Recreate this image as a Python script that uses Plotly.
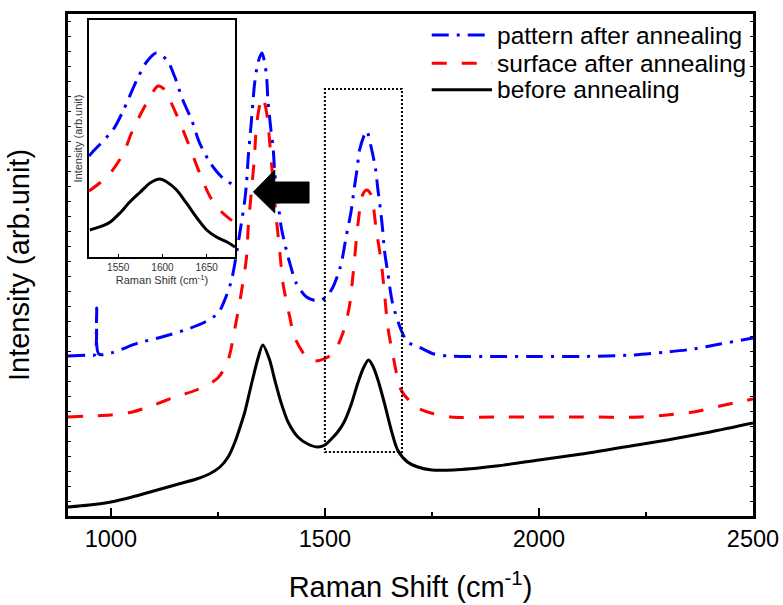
import plotly.graph_objects as go

# ---- Raman spectra (main panel), intensity in arbitrary units ----
pattern_x = [900, 950, 962, 967, 972, 1000, 1064, 1119, 1173, 1220, 1251, 1266, 1282,
             1305, 1313, 1317, 1321, 1328, 1332, 1336, 1344, 1353, 1363, 1367, 1374,
             1379, 1383, 1391, 1398, 1406, 1418, 1433, 1457, 1484, 1503, 1519, 1534,
             1540, 1550, 1561, 1569, 1575, 1581, 1594, 1598, 1608, 1618, 1624, 1630,
             1635, 1639, 1647, 1658, 1678, 1693, 1720, 1755, 1794, 1900, 2000, 2100,
             2220, 2299, 2361, 2423, 2500]
pattern_y = [162, 163, 163, 210, 164, 165, 175, 181, 188, 196, 205, 218, 238,
             295, 318, 335, 361, 395, 416, 435, 456, 465, 445, 418, 388,
             371, 345, 315, 291, 275, 255, 235, 221, 217, 221, 231, 248,
             258, 282, 306, 331, 348, 368, 385, 387, 371, 350, 328, 308,
             288, 268, 245, 215, 188, 176, 171, 164, 162, 161.5, 161.5, 161.5,
             163, 166, 169, 174, 180]

surface_x = [900, 950, 1000, 1050, 1100, 1150, 1200, 1250, 1274, 1290, 1305, 1317,
             1321, 1328, 1335, 1340, 1348, 1355, 1362, 1367, 1374, 1387, 1395, 1402,
             1418, 1429, 1457, 1476, 1503, 1522, 1542, 1557, 1569, 1577, 1588, 1598,
             1608, 1620, 1631, 1639, 1647, 1658, 1678, 1700, 1717, 1748, 1794, 1900,
             2000, 2100, 2237, 2299, 2361, 2423, 2500]
surface_y = [101, 102, 103, 106, 113, 121, 128, 140, 158, 190, 226, 261,
             291, 325, 358, 391, 413, 421, 410, 395, 361, 298, 265, 235,
             201, 181, 161, 157, 160, 166, 185, 211, 258, 293, 323, 328,
             323, 288, 258, 226, 191, 165, 128, 116, 110, 105, 101, 101,
             101, 101, 101, 103, 106, 112, 119]

before_x = [900, 950, 1000, 1050, 1100, 1150, 1200, 1230, 1255, 1274, 1290, 1305, 1313,
            1328, 1344, 1355, 1371, 1383, 1398, 1414, 1437, 1460, 1484, 1500, 1515,
            1530, 1545, 1561, 1577, 1590, 1602, 1612, 1624, 1639, 1655, 1670, 1693,
            1717, 1750, 1800, 1900, 2000, 2100, 2200, 2300, 2400, 2500]
before_y = [11, 13, 16, 21, 27, 33, 39, 44, 51, 61, 76, 95, 106,
            133, 160, 173, 158, 138, 115, 96, 81, 74, 71, 73, 79,
            86, 96, 113, 135, 150, 158, 152, 138, 115, 88, 68, 56,
            51, 48, 48, 52, 58, 64, 71, 78, 86, 95]

# ---- G-band detail (inset), intensity in arbitrary units ----
in_pattern_x = [1517, 1522, 1544, 1556, 1571, 1582, 1593, 1605, 1614, 1623, 1633, 1642, 1654, 1667, 1682]
in_pattern_y = [101, 106, 127, 147, 177, 195, 204, 197, 180, 157, 137, 114, 94, 80, 71]

in_surface_x = [1517, 1529, 1542, 1556, 1565, 1576, 1586, 1595, 1603, 1610, 1620, 1629, 1642, 1654, 1667, 1682]
in_surface_y = [66, 74, 85, 104, 124, 144, 160, 171, 167, 154, 134, 114, 84, 60, 45, 34]

in_before_x = [1518, 1529, 1541, 1552, 1563, 1575, 1586, 1597, 1605, 1616, 1627, 1639, 1650, 1661, 1673, 1682]
in_before_y = [27, 30, 35, 44, 55, 65, 74, 78, 75, 67, 54, 39, 27, 20, 15, 10]

series_names = ["pattern after annealing", "surface after annealing", "before annealing"]
series_colors = ["#0000ff", "#ff0000", "#000000"]
series_dash = ["17px,8px,3px,8px", "15px,15px", "solid"]

x_ticks = [1000, 1500, 2000, 2500]
x_minor = [1250, 1750, 2250]
inset_ticks = [1550, 1600, 1650]

FONT = "Liberation Sans, Arial, sans-serif"

fig = go.Figure()

main_data = [(pattern_x, pattern_y), (surface_x, surface_y), (before_x, before_y)]
inset_data = [(in_pattern_x, in_pattern_y), (in_surface_x, in_surface_y), (in_before_x, in_before_y)]

for (xs, ys), name, col, dash in zip(main_data, series_names, series_colors, series_dash):
    fig.add_trace(go.Scatter(x=xs, y=ys, mode="lines", name=name, showlegend=False,
                             line=dict(color=col, width=3, dash=dash, shape="spline", smoothing=0.8)))

for (xs, ys), name, col, dash in zip(inset_data, series_names, series_colors, series_dash):
    fig.add_trace(go.Scatter(x=xs, y=ys, mode="lines", name=name, showlegend=False,
                             xaxis="x2", yaxis="y2",
                             line=dict(color=col, width=3, dash=dash, shape="spline", smoothing=0.8)))

shapes = []
# dotted box around the G band
shapes.append(dict(type="rect", xref="x", yref="y", x0=1500, x1=1680, y0=66, y1=429,
                   line=dict(color="black", width=2, dash="2px,2px"), layer="above"))
# arrow pointing at the D band
shapes.append(dict(type="path", xref="x", yref="y",
                   path="M1333,326 L1383,348 L1383,336 L1463,336 L1463,315 L1383,315 L1383,305 Z",
                   fillcolor="black", line=dict(color="black", width=1)))

annotations = []
# legend key
legend_rows = [0.958, 0.902, 0.849]
for name, col, dash, yy in zip(series_names, series_colors, series_dash, legend_rows):
    shapes.append(dict(type="line", xref="paper", yref="paper", x0=0.531, x1=0.619, y0=yy, y1=yy,
                       line=dict(color=col, width=3, dash=dash)))
    annotations.append(dict(xref="paper", yref="paper", x=0.623, y=yy, text=name, showarrow=False,
                            xanchor="left", yanchor="middle",
                            font=dict(family=FONT, size=24.5, color="black")))

fig.update_layout(
    width=783, height=605,
    margin=dict(l=68, r=30, t=14, b=89),
    paper_bgcolor="white", plot_bgcolor="white",
    font=dict(family=FONT, color="black"),
    shapes=shapes, annotations=annotations,
    xaxis=dict(range=[900, 2500], tickvals=x_ticks, ticks="inside", ticklen=8, tickwidth=2,
               tickcolor="black", showline=True, linewidth=3, linecolor="black", mirror=True,
               showgrid=False, zeroline=False, tickfont=dict(size=23.5), automargin=False,
               minor=dict(tickvals=x_minor, ticks="inside", ticklen=4, tickwidth=2, tickcolor="black"),
               title=dict(text="Raman Shift (cm<sup>-1</sup>)", font=dict(size=29), standoff=26)),
    yaxis=dict(range=[2, 504], showticklabels=False, ticks="inside", ticklen=3, tickwidth=1,
               tick0=2, dtick=15, tickcolor="black", showline=True, linewidth=3, linecolor="black",
               mirror="ticks", showgrid=False, zeroline=False, automargin=False,
               title=dict(text="Intensity (arb.unit)", font=dict(size=29), standoff=27)),
    xaxis2=dict(domain=[0.0307, 0.2438], anchor="y2", range=[1517, 1682], tickvals=inset_ticks,
                ticks="inside", ticklen=3, tickwidth=1, tickcolor="black", showline=True,
                linewidth=1.5, linecolor="black", mirror=True, showgrid=False, zeroline=False,
                automargin=False, tickfont=dict(size=10, color="#333"),
                title=dict(text="Raman Shift (cm<sup>-1</sup>)", font=dict(size=11, color="#333"), standoff=2)),
    yaxis2=dict(domain=[0.516, 0.988], anchor="x2", range=[0, 237], showticklabels=False, ticks="",
                showline=True, linewidth=1.5, linecolor="black", mirror=True, showgrid=False,
                zeroline=False, automargin=False,
                title=dict(text="Intensity (arb.unit)", font=dict(size=11, color="#333"), standoff=2)),
)

fig.write_html("out.html")
